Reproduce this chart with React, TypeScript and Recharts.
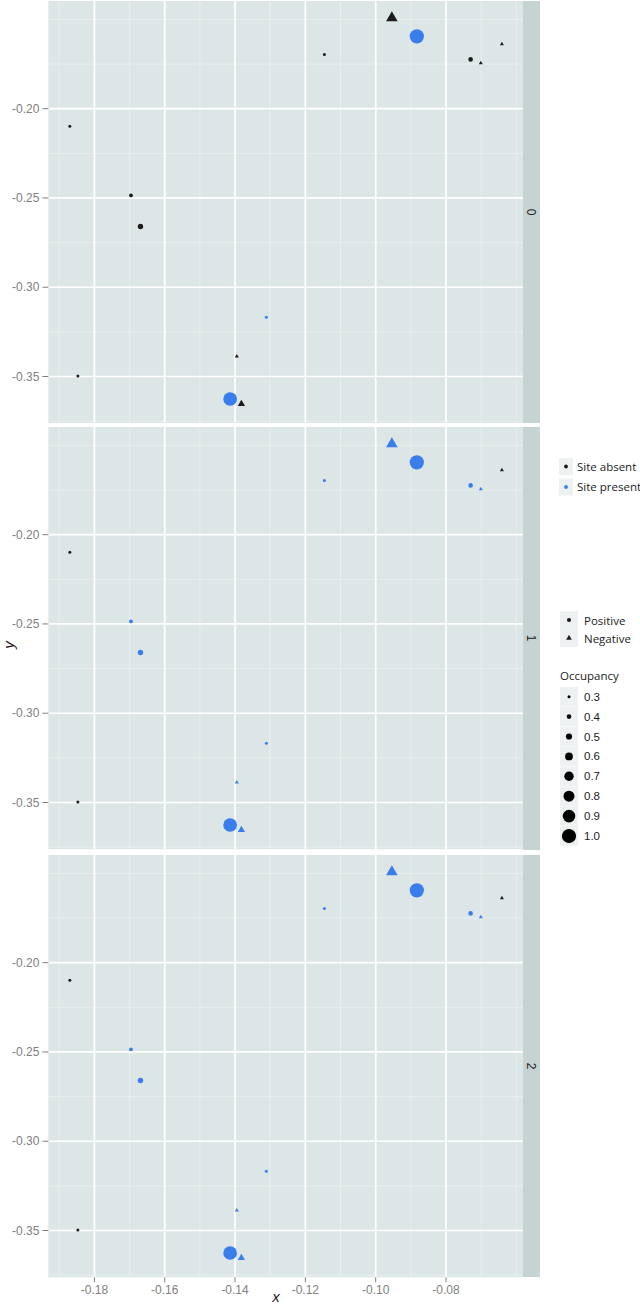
import React from 'react';
import { ScatterChart, Scatter, XAxis, YAxis, ZAxis, CartesianGrid, Cell } from 'recharts';

// ---------- data ----------
const pointX = [-0.0954, -0.0883, -0.1146, -0.0730, -0.0701, -0.0641, -0.1870, -0.1696, -0.1669, -0.1311, -0.1395, -0.1847, -0.1414, -0.1382];
const pointY = [-0.1492, -0.1595, -0.1697, -0.1724, -0.1745, -0.1638, -0.2098, -0.2486, -0.2660, -0.3168, -0.3387, -0.3497, -0.3626, -0.3654];
const occupancy = [0.65, 1.0, 0.3, 0.4, 0.3, 0.3, 0.3, 0.35, 0.45, 0.3, 0.3, 0.3, 0.97, 0.45];
const effect = ['Negative', 'Positive', 'Positive', 'Positive', 'Negative', 'Negative', 'Positive', 'Positive', 'Positive', 'Positive', 'Negative', 'Positive', 'Positive', 'Negative'];
const sitePanel0 = [0, 1, 0, 0, 0, 0, 0, 0, 0, 1, 0, 0, 1, 0];
const sitePanel1 = [1, 1, 1, 1, 1, 0, 0, 1, 1, 1, 1, 0, 1, 1];
const sitePanel2 = [1, 1, 1, 1, 1, 0, 0, 1, 1, 1, 1, 0, 1, 1];
const panelSites = [sitePanel0, sitePanel1, sitePanel2];
const panelLabels = ['0', '1', '2'];

const xTicks = [-0.18, -0.16, -0.14, -0.12, -0.10, -0.08];
const xMinor = [-0.19, -0.17, -0.15, -0.13, -0.11, -0.09, -0.07, -0.06];
const yTicks = [-0.20, -0.25, -0.30, -0.35];
const yMinor = [-0.15, -0.175, -0.225, -0.275, -0.325, -0.375];
const xDomain = [-0.19309, -0.0581];
const yDomain = [-0.3762, -0.1397];

const siteLabels = ['Site absent', 'Site present'];
const effectLabels = ['Positive', 'Negative'];
const sizeBreaks = [0.3, 0.4, 0.5, 0.6, 0.7, 0.8, 0.9, 1.0];
const sizeDomain = [0.3, 1.0];
const sizeRange = [3, 14.2];

// ---------- style ----------
const BG = '#dde6e7';
const STRIP = '#c5d3d3';
const MINOR = '#eaf0f0';
const BLACK = '#1c1c1c';
const BLUE = '#3a7ded';
const TICK = '#808080';
const NARROW = '"Liberation Sans Narrow", "Liberation Sans", Arial, sans-serif';
const SANS = '"Open Sans", "Noto Sans", sans-serif';
const siteColors = [BLACK, BLUE];

const PANEL_TOPS = [0.7, 427.3, 854.7];
const PANEL_H = 422.3;
const CHART_W = 523;
const YAXIS_W = 48.4;

const diam = (v: number) =>
  sizeRange[0] + ((v - sizeDomain[0]) / (sizeDomain[1] - sizeDomain[0])) * (sizeRange[1] - sizeRange[0]);

const renderShape = (props: any) => {
  const { cx, cy, payload } = props;
  let d = props.size;
  if (d == null || isNaN(d)) d = diam(payload.occ);
  const fill = props.fill || siteColors[payload.site];
  if (payload.effect === 'Negative') {
    const r = 0.7776 * d, yc = 0.3888 * d, xc = 0.6734 * d;
    return <polygon points={`${cx},${cy - r} ${cx + xc},${cy + yc} ${cx - xc},${cy + yc}`} fill={fill} />;
  }
  return <circle cx={cx} cy={cy} r={d / 2} fill={fill} />;
};

function Panel({ idx }: { idx: number }) {
  const sites = panelSites[idx];
  const data = pointX.map((x, i) => ({ x, y: pointY[i], occ: occupancy[i], effect: effect[i], site: sites[i] }));
  const isBottom = idx === 2;
  return (
    <ScatterChart
      width={CHART_W}
      height={PANEL_H + (isBottom ? 30 : 0)}
      margin={{ top: 0, right: 0, bottom: 0, left: 0 }}
    >
      <CartesianGrid fill={BG} fillOpacity={1} stroke={MINOR} strokeWidth={0.8} horizontalValues={yMinor} verticalValues={xMinor} />
      <CartesianGrid stroke="#ffffff" strokeWidth={1.7} horizontalValues={yTicks} verticalValues={xTicks} />
      <XAxis
        type="number"
        dataKey="x"
        domain={xDomain}
        ticks={xTicks}
        allowDataOverflow
        hide={!isBottom}
        height={30}
        axisLine={false}
        tickLine={{ stroke: TICK, strokeWidth: 1 }}
        tickSize={5}
        tickMargin={3}
        interval={0}
        tick={{ fill: TICK, fontSize: 12, fontFamily: NARROW }}
        tickFormatter={(v: number) => v.toFixed(2)}
      />
      <YAxis
        type="number"
        dataKey="y"
        domain={yDomain}
        ticks={yTicks}
        allowDataOverflow
        width={YAXIS_W}
        axisLine={false}
        tickLine={{ stroke: TICK, strokeWidth: 1 }}
        tickSize={6}
        tickMargin={3}
        interval={0}
        tick={{ fill: TICK, fontSize: 12, fontFamily: NARROW }}
        tickFormatter={(v: number) => v.toFixed(2)}
      />
      <ZAxis type="number" dataKey="occ" domain={sizeDomain} range={sizeRange} />
      <Scatter data={data} fill={BLACK} shape={renderShape} isAnimationActive={false}>
        {data.map((d, i) => (
          <Cell key={i} fill={siteColors[d.site]} />
        ))}
      </Scatter>
    </ScatterChart>
  );
}

function Legend() {
  const ox = 540, oy = 440;
  const txt = { fontFamily: SANS, fontSize: 11.5, fill: BLACK } as any;
  const num = { fontFamily: '"Liberation Sans", Arial, sans-serif', fontSize: 11.5, fill: BLACK } as any;
  const siteY = [466.5, 487];
  const effY = [620, 638];
  return (
    <svg width={100} height={420} style={{ position: 'absolute', left: ox, top: oy }}>
      {siteLabels.map((lab, i) => (
        <g key={lab}>
          <rect x={559 - ox} y={siteY[i] - 8.5 - oy} width={14} height={17} fill="#eef1f1" />
          <circle cx={566 - ox} cy={siteY[i] - oy} r={1.9} fill={siteColors[i]} />
          <text x={577 - ox} y={siteY[i] - oy} dy="0.35em" {...txt}>{lab}</text>
        </g>
      ))}
      {effectLabels.map((lab, i) => {
        const cx = 569 - ox, cy = effY[i] - oy;
        const d = 4.2;
        return (
          <g key={lab}>
            <rect x={560 - ox} y={cy - 9} width={18} height={18} fill="#eef1f1" />
            {lab === 'Positive' ? (
              <circle cx={cx} cy={cy} r={d / 2} fill={BLACK} />
            ) : (
              <polygon points={`${cx},${cy - 0.7776 * d} ${cx + 0.6734 * d},${cy + 0.3888 * d} ${cx - 0.6734 * d},${cy + 0.3888 * d}`} fill={BLACK} />
            )}
            <text x={584 - ox} y={cy + 1} dy="0.35em" {...txt}>{lab}</text>
          </g>
        );
      })}
      <text x={560 - ox} y={676 - oy} dy="0.35em" {...txt}>Occupancy</text>
      {sizeBreaks.map((v, i) => {
        const cy = 696.7 + 19.9 * i - oy;
        return (
          <g key={v}>
            <rect x={560 - ox} y={cy - 9.8} width={18} height={19.4} fill="#eef1f1" />
            <circle cx={569 - ox} cy={cy} r={diam(v) / 2} fill="#000" />
            <text x={584 - ox} y={cy} dy="0.35em" {...num}>{v.toFixed(1)}</text>
          </g>
        );
      })}
    </svg>
  );
}

export default function App() {
  return (
    <div style={{ position: 'absolute', left: 0, top: 0, width: 640, height: 1307, background: '#fff', overflow: 'hidden' }}>
      {[0, 1, 2].map((i) => (
        <React.Fragment key={i}>
          <div style={{ position: 'absolute', left: 0, top: PANEL_TOPS[i] }}>
            <Panel idx={i} />
          </div>
          <div
            style={{
              position: 'absolute', left: CHART_W, top: PANEL_TOPS[i], width: 17, height: PANEL_H,
              background: STRIP, display: 'flex', alignItems: 'center', justifyContent: 'center',
            }}
          >
            <span style={{ transform: 'rotate(90deg)', fontFamily: NARROW, fontSize: 12, color: BLACK }}>
              {panelLabels[i]}
            </span>
          </div>
        </React.Fragment>
      ))}
      <div style={{ position: 'absolute', left: 0, top: 636, width: 18, height: 18, transform: 'rotate(-90deg)', fontFamily: NARROW, fontStyle: 'italic', fontSize: 15, color: BLACK, lineHeight: '18px', textAlign: 'center' }}>y</div>
      <div style={{ position: 'absolute', left: 267, top: 1288, width: 18, height: 18, fontFamily: NARROW, fontStyle: 'italic', fontSize: 15, color: BLACK, lineHeight: '18px', textAlign: 'center' }}>x</div>
      <Legend />
    </div>
  );
}
